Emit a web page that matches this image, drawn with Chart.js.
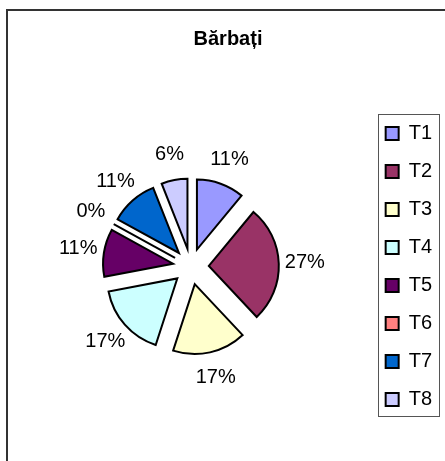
<!DOCTYPE html>
<html>
<head>
<meta charset="utf-8">
<script src="https://cdn.jsdelivr.net/npm/chart.js@4.4.1/dist/chart.umd.min.js"></script>
<style>
  html, body { margin: 0; padding: 0; background: #fff; }
  canvas { display: block; }
</style>
</head>
<body>
<canvas id="pieChart" width="445" height="461"></canvas>
<script>
const categories = ['T1', 'T2', 'T3', 'T4', 'T5', 'T6', 'T7', 'T8'];
const shares = [11, 27, 17, 17, 11, 0, 11, 6];
const sliceColors = ['#9999FF', '#993366', '#FFFFCC', '#CCFFFF', '#660066', '#FF8080', '#0066CC', '#CCCCFF'];

const fontFamily = '"Liberation Sans", Arial, sans-serif';
const explode = 18;      // px each slice is pulled out (Excel style)
const labelGap = 26;     // px from slice edge to label centre

const shiftOf = (arc) => {
    const mid = (arc.startAngle + arc.endAngle) / 2;
    return { mid, dx: Math.cos(mid) * explode, dy: Math.sin(mid) * explode };
};

// move every slice out along its middle angle while it is drawn
const explodePlugin = {
    id: 'explode',
    beforeDatasetDraw(chart, args) {
        args.meta.data.forEach(arc => {
            const s = shiftOf(arc);
            arc.x += s.dx;
            arc.y += s.dy;
        });
    },
    afterDatasetDraw(chart, args) {
        const ctx = chart.ctx;
        const total = shares.reduce((a, b) => a + b, 0);
        args.meta.data.forEach((arc, i) => {
            const s = shiftOf(arc);
            // zero slices are not drawn by Chart.js, Excel shows a single border line
            if (shares[i] === 0) {
                ctx.save();
                ctx.strokeStyle = '#000';
                ctx.lineWidth = 2;
                ctx.beginPath();
                ctx.moveTo(arc.x, arc.y);
                ctx.lineTo(arc.x + Math.cos(s.mid) * arc.outerRadius, arc.y + Math.sin(s.mid) * arc.outerRadius);
                ctx.stroke();
                ctx.restore();
            }
            // percentage labels outside the slice
            const dist = arc.outerRadius + labelGap;
            ctx.save();
            ctx.fillStyle = '#000';
            ctx.font = '20px ' + fontFamily;
            ctx.textAlign = 'center';
            ctx.textBaseline = 'middle';
            ctx.fillText(Math.round(shares[i] / total * 100) + '%', arc.x + Math.cos(s.mid) * dist, arc.y + Math.sin(s.mid) * dist);
            ctx.restore();
        });
        args.meta.data.forEach(arc => {
            const s = shiftOf(arc);
            arc.x -= s.dx;
            arc.y -= s.dy;
        });
    }
};

// outer chart border and the box round the legend
const framePlugin = {
    id: 'frame',
    afterDraw(chart) {
        const ctx = chart.ctx;
        const lg = chart.legend;
        const pad = lg.options.labels.padding;
        const colH = categories.length * (lg.options.labels.font.size + pad);
        const y0 = (lg.top + pad + lg.bottom - colH) / 2;
        ctx.save();
        ctx.strokeStyle = '#333';
        ctx.lineWidth = 2;
        ctx.strokeRect(7, 10, 460, 470);
        ctx.strokeStyle = '#555';
        ctx.lineWidth = 1;
        ctx.strokeRect(Math.round(lg.left + pad - 8) + 0.5, Math.round(y0 - 10) + 0.5,
            Math.round(lg.right - 3 - (lg.left + pad - 8)), Math.round(colH - 2));
        ctx.restore();
    }
};

const ctx = document.getElementById('pieChart').getContext('2d');
new Chart(ctx, {
    type: 'pie',
    data: {
        labels: categories,
        datasets: [{
            data: shares,
            backgroundColor: sliceColors,
            borderColor: '#000',
            borderWidth: 2,
            borderJoinStyle: 'miter',
            borderAlign: 'center'
        }]
    },
    options: {
        responsive: false,
        animation: false,
        radius: 70,
        layout: {
            padding: { left: 14, right: 3, top: 27, bottom: 12 }
        },
        plugins: {
            title: {
                display: true,
                text: 'Bărbați',
                color: '#000',
                font: { family: fontFamily, size: 20, weight: 'bold' },
                padding: { top: 0, bottom: 33 }
            },
            legend: {
                position: 'right',
                fullSize: false,
                labels: {
                    color: '#000',
                    font: { family: fontFamily, size: 20 },
                    boxWidth: 13,
                    boxHeight: 13,
                    padding: 18
                }
            },
            tooltip: { enabled: false }
        }
    },
    plugins: [explodePlugin, framePlugin]
});
</script>
</body>
</html>
